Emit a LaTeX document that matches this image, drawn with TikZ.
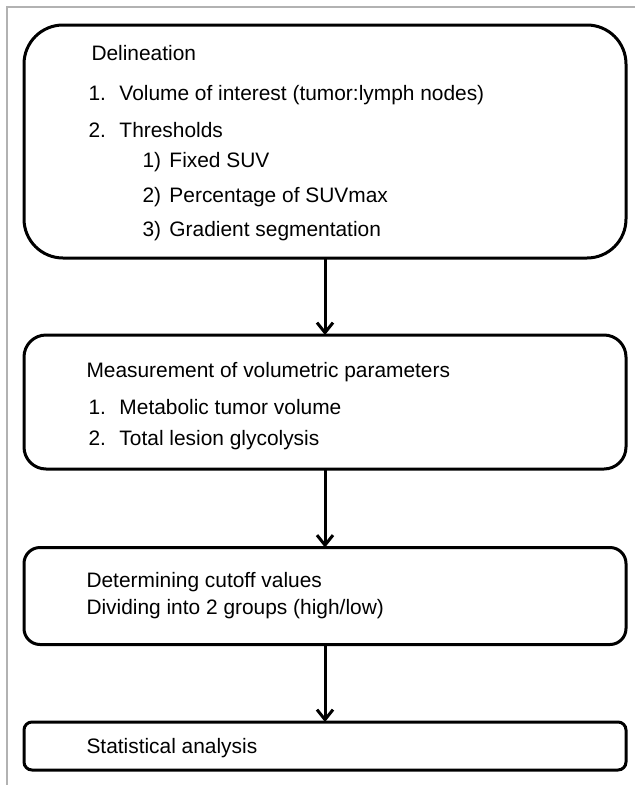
\documentclass[tikz,border=0pt]{standalone}
\usepackage{fontspec}
\setmainfont{Liberation Sans}
\usetikzlibrary{arrows.meta}

\newcommand{\itemno}[2]{\makebox[#1][l]{#2}}

\begin{document}
\begin{tikzpicture}[x=1pt, y=-1pt, line width=3pt,
  box/.style={draw, rectangle, minimum width=602pt, inner sep=0pt, outer sep=0pt},
  txt/.style={anchor=base west, inner sep=0pt, font=\fontsize{20.9}{24}\selectfont},
  flow/.style={-{Straight Barb[length=10pt,width=16pt]}}]
  \useasboundingbox (0,0) rectangle (635,785);
  % cropped frame
  \draw[line width=1.5pt, black!30] (7,785) -- (7,7) -- (635,7);
  % boxes: D=delineation, M=measurement, C=cutoff, S=statistics
  \node[box, minimum height=233pt, rounded corners=39pt] (D) at (325,141.5) {};
  \node[box, minimum height=134pt, rounded corners=22pt] (M) at (325,402) {};
  \node[box, minimum height=97pt, rounded corners=16pt] (C) at (325,596) {};
  \node[box, minimum height=48pt, rounded corners=8pt] (S) at (325,746) {};
  \draw[flow] (D.south) -- (M.north);
  \draw[flow] (M.south) -- (C.north);
  \draw[flow] (C.south) -- (S.north);
  % texts
  \node[txt] (d0) at (90,60) {Delineation};
  \node[txt] (d1) at (87,100) {\itemno{31pt}{1.}Volume of interest (tumor:lymph nodes)};
  \node[txt] (d2) at (87,137) {\itemno{31pt}{2.}Thresholds};
  \node[txt] (d3) at (141,167) {\itemno{27pt}{1)}Fixed SUV};
  \node[txt] (d4) at (141,202) {\itemno{27pt}{2)}Percentage of SUVmax};
  \node[txt] (d5) at (141,236) {\itemno{27pt}{3)}Gradient segmentation};
  \node[txt] (m0) at (85,377) {Measurement of volumetric parameters};
  \node[txt] (m1) at (87,414) {\itemno{31pt}{1.}Metabolic tumor volume};
  \node[txt] (m2) at (87,445) {\itemno{31pt}{2.}Total lesion glycolysis};
  \node[txt] (c0) at (85,587) {Determining cutoff values};
  \node[txt] (c1) at (85,614) {Dividing into 2 groups (high/low)};
  \node[txt] (s0) at (85,753) {Statistical analysis};
\end{tikzpicture}
\end{document}
